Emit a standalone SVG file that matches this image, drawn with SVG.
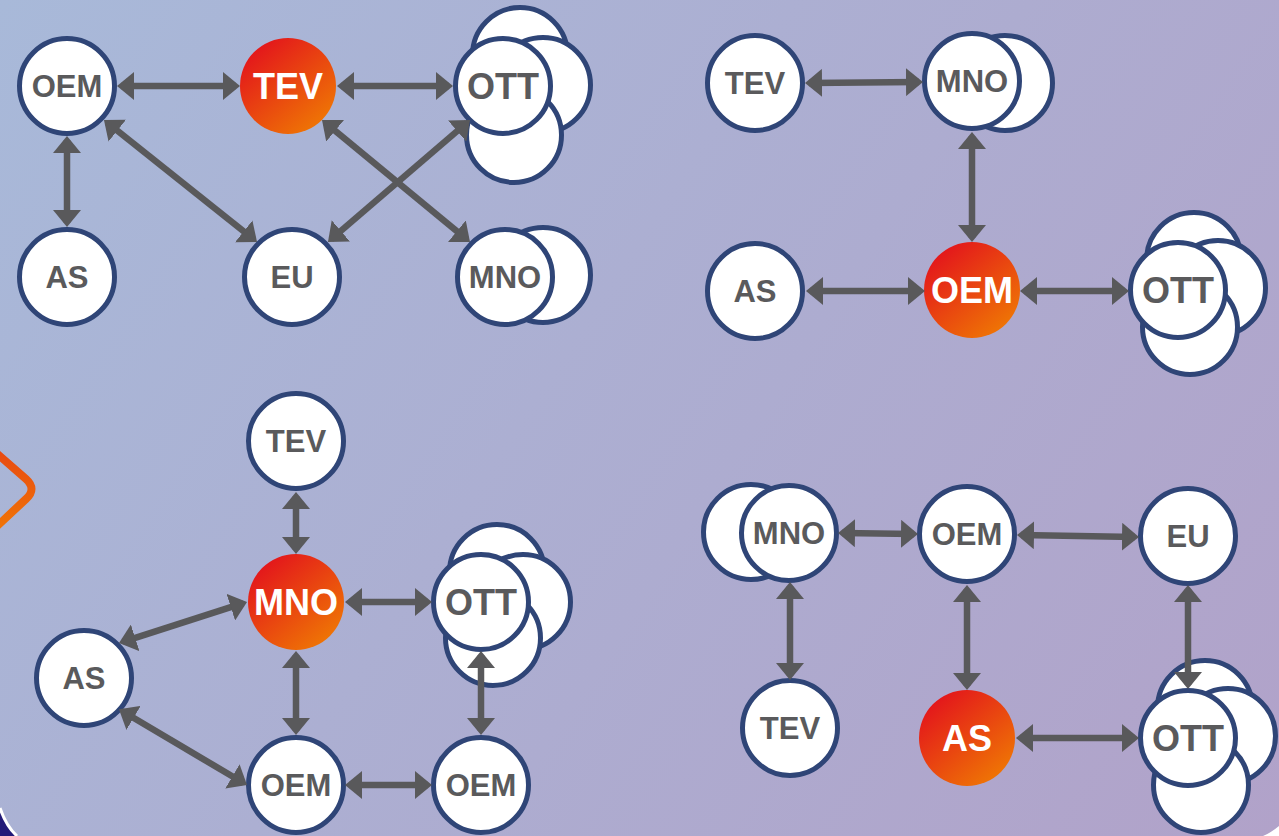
<svg xmlns="http://www.w3.org/2000/svg" width="1279" height="836" viewBox="0 0 1279 836">
<defs>
<linearGradient id="bg" gradientUnits="userSpaceOnUse" x1="0" y1="0" x2="1279" y2="836">
<stop offset="0" stop-color="#a8b9d9"/>
<stop offset="1" stop-color="#b1a2c9"/>
</linearGradient>
<linearGradient id="hot" x1="0.15" y1="0.08" x2="0.85" y2="0.92">
<stop offset="0" stop-color="#e3141c"/>
<stop offset="1" stop-color="#ef7704"/>
</linearGradient>
<linearGradient id="chev" x1="0" y1="0" x2="0" y2="1">
<stop offset="0" stop-color="#e84a12"/>
<stop offset="1" stop-color="#f07406"/>
</linearGradient>
<marker id="ah" viewBox="0 0 17 28" refX="13" refY="14" markerWidth="17" markerHeight="28" markerUnits="userSpaceOnUse" orient="auto-start-reverse">
<path d="M0,0 L17,14 L0,28 Z" fill="#59595b"/>
</marker>
<style>
.n{fill:#ffffff;stroke:#2f4577;stroke-width:5}
.h{fill:url(#hot)}
.t{font-family:"Liberation Sans",Arial,sans-serif;font-weight:bold;font-size:31px;fill:#5a5a5c;text-anchor:middle}
.tb{font-size:36px}
.tw{font-family:"Liberation Sans",Arial,sans-serif;font-weight:bold;font-size:36px;fill:#ffffff;text-anchor:middle}
.c line{stroke:#59595b;stroke-width:6.5;marker-start:url(#ah);marker-end:url(#ah)}
</style>
</defs>
<rect x="0" y="0" width="1279" height="836" fill="url(#bg)"/>
<path d="M0,808 Q6,826 17,836 L0,836 Z" fill="#231a78"/>
<path d="M0,808 Q6,826 17,836" fill="none" stroke="#ffffff" stroke-width="3"/>
<path d="M1263,836 Q1272,832 1279,826 L1279,836 Z" fill="#ffffff"/>
<path d="M-6,451 L26,479 Q37,489 26,499 L-6,529" fill="none" stroke="url(#chev)" stroke-width="8" stroke-linecap="round" stroke-linejoin="round"/>

<!-- Quadrant 1 -->
<g id="q1-oem"><circle class="n" cx="67" cy="86" r="47.5"/><text class="t" x="67" y="97">OEM</text></g>
<g id="q1-tev"><circle class="h" cx="288" cy="86" r="48"/><text class="tw" x="288" y="99">TEV</text></g>
<g id="q1-ott"><circle class="n" cx="520" cy="55" r="47.5"/><circle class="n" cx="543" cy="85" r="47.5"/><circle class="n" cx="514" cy="135" r="47.5"/><circle class="n" cx="503" cy="86" r="47.5"/><text class="t tb" x="503" y="99">OTT</text></g>
<g id="q1-as"><circle class="n" cx="67" cy="277" r="47.5"/><text class="t" x="67" y="288">AS</text></g>
<g id="q1-eu"><circle class="n" cx="292" cy="277" r="47.5"/><text class="t" x="292" y="288">EU</text></g>
<g id="q1-mno"><circle class="n" cx="543" cy="275" r="47.5"/><circle class="n" cx="505" cy="277" r="47.5"/><text class="t" x="505" y="288">MNO</text></g>

<!-- Quadrant 2 -->
<g id="q2-tev"><circle class="n" cx="755" cy="83" r="47.5"/><text class="t" x="755" y="94">TEV</text></g>
<g id="q2-mno"><circle class="n" cx="1005" cy="83" r="47.5"/><circle class="n" cx="972" cy="81" r="47.5"/><text class="t" x="972" y="92">MNO</text></g>
<g id="q2-as"><circle class="n" cx="755" cy="291" r="47.5"/><text class="t" x="755" y="302">AS</text></g>
<g id="q2-oem"><circle class="h" cx="972" cy="290" r="48"/><text class="tw" x="972" y="303">OEM</text></g>
<g id="q2-ott"><circle class="n" cx="1194" cy="260" r="47.5"/><circle class="n" cx="1218" cy="288" r="47.5"/><circle class="n" cx="1190" cy="327" r="47.5"/><circle class="n" cx="1178" cy="290" r="47.5"/><text class="t tb" x="1178" y="303">OTT</text></g>

<!-- Quadrant 3 -->
<g id="q3-tev"><circle class="n" cx="296" cy="441" r="47.5"/><text class="t" x="296" y="452">TEV</text></g>
<g id="q3-mno"><circle class="h" cx="296" cy="602" r="48"/><text class="tw" x="296" y="615">MNO</text></g>
<g id="q3-ott"><circle class="n" cx="497" cy="572" r="47.5"/><circle class="n" cx="523" cy="602" r="47.5"/><circle class="n" cx="493" cy="638" r="47.5"/><circle class="n" cx="481" cy="602" r="47.5"/><text class="t tb" x="481" y="615">OTT</text></g>
<g id="q3-as"><circle class="n" cx="84" cy="678" r="47.5"/><text class="t" x="84" y="689">AS</text></g>
<g id="q3-oem1"><circle class="n" cx="296" cy="785" r="47.5"/><text class="t" x="296" y="796">OEM</text></g>
<g id="q3-oem2"><circle class="n" cx="481" cy="785" r="47.5"/><text class="t" x="481" y="796">OEM</text></g>

<!-- Quadrant 4 -->
<g id="q4-mno"><circle class="n" cx="751" cy="532" r="47.5"/><circle class="n" cx="789" cy="533" r="47.5"/><text class="t" x="789" y="544">MNO</text></g>
<g id="q4-oem"><circle class="n" cx="967" cy="534" r="47.5"/><text class="t" x="967" y="545">OEM</text></g>
<g id="q4-eu"><circle class="n" cx="1188" cy="536" r="47.5"/><text class="t" x="1188" y="547">EU</text></g>
<g id="q4-tev"><circle class="n" cx="790" cy="728" r="47.5"/><text class="t" x="790" y="739">TEV</text></g>
<g id="q4-as"><circle class="h" cx="967" cy="738" r="48"/><text class="tw" x="967" y="751">AS</text></g>
<g id="q4-ott"><circle class="n" cx="1205" cy="708" r="47.5"/><circle class="n" cx="1228" cy="736" r="47.5"/><circle class="n" cx="1201" cy="785" r="47.5"/><circle class="n" cx="1188" cy="738" r="47.5"/><text class="t tb" x="1188" y="751">OTT</text></g>

<g id="connectors" class="c">
<line x1="121" y1="86" x2="236" y2="86"/>
<line x1="341" y1="86" x2="449" y2="86"/>
<line x1="67" y1="140" x2="67" y2="223"/>
<line x1="107.1" y1="122.5" x2="253.9" y2="239.5"/>
<line x1="467" y1="122.6" x2="331" y2="239.4"/>
<line x1="325.1" y1="122.5" x2="466.9" y2="239.5"/>

<line x1="809" y1="83" x2="919" y2="82"/>
<line x1="972" y1="136" x2="972" y2="238"/>
<line x1="810" y1="291" x2="921" y2="291"/>
<line x1="1024" y1="291" x2="1125" y2="291"/>

<line x1="296" y1="496" x2="296" y2="550"/>
<line x1="243.2" y1="603.2" x2="122.8" y2="641.8"/>
<line x1="349" y1="602" x2="428" y2="602"/>
<line x1="296" y1="655" x2="296" y2="731"/>
<line x1="122.4" y1="711.3" x2="243.6" y2="783"/>
<line x1="481" y1="655" x2="481" y2="731"/>
<line x1="349" y1="785" x2="428" y2="785"/>

<line x1="842" y1="533" x2="914" y2="534"/>
<line x1="1021" y1="535" x2="1135" y2="537"/>
<line x1="790" y1="586" x2="790" y2="676"/>
<line x1="967" y1="589" x2="967" y2="686"/>
<line x1="1188" y1="589" x2="1188" y2="685"/>
<line x1="1020" y1="738" x2="1135" y2="738"/>
</g>
</svg>
